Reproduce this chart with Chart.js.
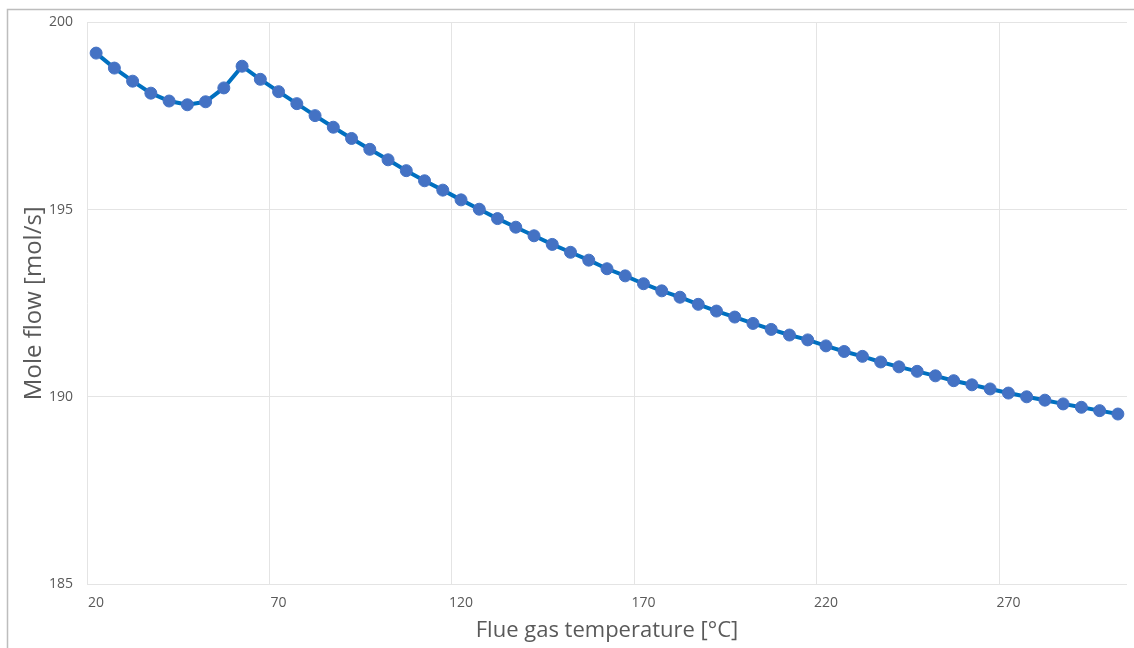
<!DOCTYPE html>
<html>
<head>
<meta charset="utf-8">
<title>Mole flow vs flue gas temperature</title>
<script src="https://cdn.jsdelivr.net/npm/chart.js@4/dist/chart.umd.min.js"></script>
<style>
  html, body { margin: 0; padding: 0; background: #ffffff; }
  #wrap { width: 1134px; height: 648px; position: relative; }
</style>
</head>
<body>
<div id="wrap"><canvas id="c" width="1134" height="648"></canvas></div>
<script>
// Flue gas temperature [°C], one category every 5 degrees
const temperatures = [
  20, 25, 30, 35, 40, 45, 50, 55, 60, 65,
  70, 75, 80, 85, 90, 95, 100, 105, 110, 115,
  120, 125, 130, 135, 140, 145, 150, 155, 160, 165,
  170, 175, 180, 185, 190, 195, 200, 205, 210, 215,
  220, 225, 230, 235, 240, 245, 250, 255, 260, 265,
  270, 275, 280, 285, 290, 295, 300
];

// Mole flow [mol/s] at each temperature
const moleFlow = [
  199.18, 198.78, 198.43, 198.11, 197.90, 197.80, 197.88, 198.25, 198.83, 198.48,
  198.15, 197.83, 197.51, 197.20, 196.90, 196.61, 196.33, 196.04, 195.77, 195.52,
  195.26, 195.01, 194.76, 194.53, 194.30, 194.07, 193.86, 193.65, 193.42, 193.23,
  193.02, 192.83, 192.66, 192.47, 192.29, 192.13, 191.96, 191.80, 191.65, 191.52,
  191.36, 191.21, 191.08, 190.93, 190.80, 190.68, 190.56, 190.43, 190.32, 190.21,
  190.10, 190.00, 189.91, 189.81, 189.72, 189.63, 189.54
];

// Axis range and labelling
const yMin = 185;
const yMax = 200;
const yStep = 5;
const labelEvery = 10; // label every 10th temperature (20, 70, 120, ...)

const xTitle = 'Flue gas temperature [°C]';
const yTitle = 'Mole flow [mol/s]';

const textColor = '#595959';
const gridColor = '#e4e4e4';
const fontFamily = '"Open Sans", "Liberation Sans", sans-serif';

// Thin frame along the top and left of the chart
const framePlugin = {
  id: 'frame',
  afterDraw(chart) {
    const ctx = chart.ctx;
    ctx.save();
    ctx.strokeStyle = '#bdbdbd';
    ctx.lineWidth = 1.5;
    ctx.beginPath();
    ctx.moveTo(7.5, chart.height);
    ctx.lineTo(7.5, 9.5);
    ctx.lineTo(chart.width, 9.5);
    ctx.stroke();
    ctx.restore();
  }
};

new Chart(document.getElementById('c'), {
  type: 'line',
  data: {
    labels: temperatures.map(String),
    datasets: [{
      label: yTitle,
      data: moleFlow,
      borderColor: '#0070C0',
      borderWidth: 4,
      pointRadius: 6,
      pointHoverRadius: 6,
      pointBackgroundColor: '#4472C4',
      pointBorderColor: '#4472C4',
      pointBorderWidth: 1,
      tension: 0,
      fill: false
    }]
  },
  options: {
    responsive: false,
    animation: false,
    devicePixelRatio: 1,
    layout: { padding: { left: 0, right: 2, top: 22, bottom: 0 } },
    plugins: {
      legend: { display: false },
      tooltip: { enabled: false }
    },
    scales: {
      x: {
        type: 'category',
        offset: true,
        grid: {
          offset: true,
          drawTicks: false,
          lineWidth: 1,
          color: (c) => (c.index % labelEvery === 0 ? gridColor : 'rgba(0,0,0,0)')
        },
        border: { display: false },
        ticks: {
          autoSkip: false,
          maxRotation: 0,
          minRotation: 0,
          padding: 11,
          color: textColor,
          font: { family: fontFamily, size: 14 },
          callback: function (value, index) {
            return index % labelEvery === 0 ? this.getLabelForValue(value) : '';
          }
        },
        title: {
          display: true,
          text: xTitle,
          color: textColor,
          font: { family: fontFamily, size: 22, weight: 400 },
          padding: { top: 0, bottom: 4 }
        },
        afterFit: (scale) => { scale.height = 64; }
      },
      y: {
        min: yMin,
        max: yMax,
        grid: { color: gridColor, lineWidth: 1, drawTicks: false },
        border: { display: false },
        ticks: {
          stepSize: yStep,
          padding: 14,
          color: textColor,
          font: { family: fontFamily, size: 14 }
        },
        title: {
          display: true,
          text: yTitle,
          color: textColor,
          font: { family: fontFamily, size: 24, weight: 400 },
          padding: { top: 20, bottom: 0 }
        },
        afterFit: (scale) => { scale.width = 87; }
      }
    }
  },
  plugins: [framePlugin]
});
</script>
</body>
</html>
